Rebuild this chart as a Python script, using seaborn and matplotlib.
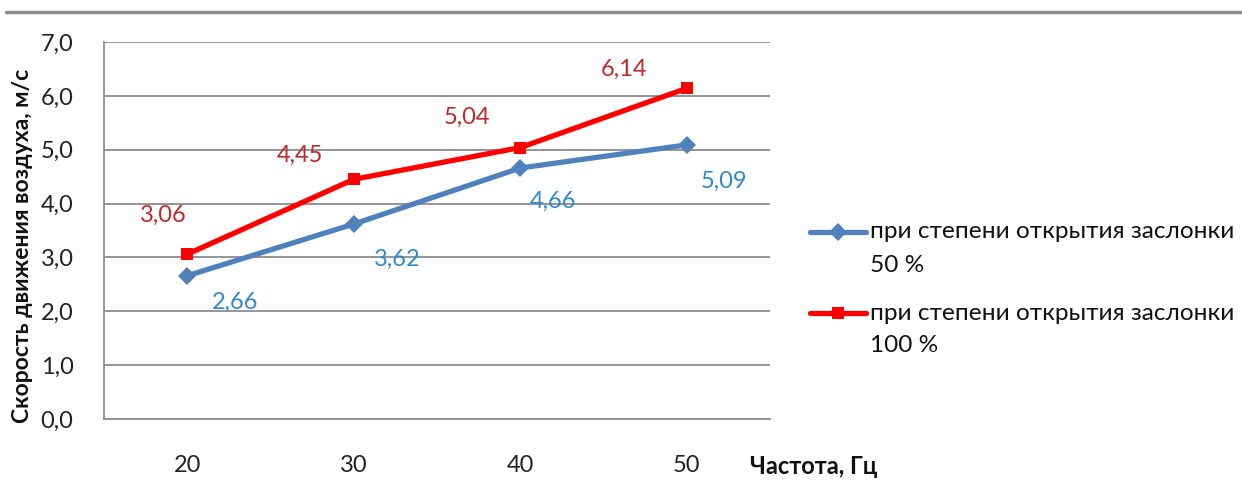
import matplotlib
matplotlib.use("Agg")
import matplotlib.pyplot as plt
from matplotlib.lines import Line2D
from matplotlib.ticker import FuncFormatter
import seaborn as sns
import pandas as pd

freq = ["20", "30", "40", "50"]
speed_50 = [2.66, 3.62, 4.66, 5.09]
speed_100 = [3.06, 4.45, 5.04, 6.14]
series_names = ["при степени открытия заслонки\n50 %",
                "при степени открытия заслонки\n100 %"]

# label offsets in pixels (dx, dy) relative to each point
offsets_50 = [(48, -27), (43, -35), (33, -33), (37, -36)]
offsets_100 = [(-24, 39), (-54, 24), (-53, 30), (-63, 19)]

df = pd.DataFrame({
    "freq": freq * 2,
    "speed": speed_50 + speed_100,
    "series": [series_names[0]] * 4 + [series_names[1]] * 4,
})

sns.set_style("white")
plt.rcParams['font.family'] = ['Lato', 'DejaVu Sans']

line_colors = ["#4F81BD", "#FF0000"]
label_colors = ["#2F8ACB", "#C0282D"]
W, H = 1242, 503

fig = plt.figure(figsize=(W / 100, H / 100), dpi=100)
ax = fig.add_axes([104 / W, 1 - 419 / H, 666 / W, 377 / H])

sns.lineplot(data=df, x="freq", y="speed", hue="series", style="series",
             palette=line_colors, markers=["D", "s"], dashes=False,
             linewidth=3.8, markersize=9, markeredgewidth=0, ax=ax, legend=False,
             sort=False)

ax.set_xlim(-0.5, 3.5)
ax.set_ylim(0, 7)
ax.set_yticks([i for i in range(8)])
ax.yaxis.set_major_formatter(FuncFormatter(lambda v, p: f"{v:.1f}".replace(".", ",")))
ax.grid(axis="y", color="#8C8C8C", linewidth=1.3)
ax.set_axisbelow(True)
for s in ["top", "right"]:
    ax.spines[s].set_visible(False)
for s in ["left", "bottom"]:
    ax.spines[s].set_color("#8C8C8C")
    ax.spines[s].set_linewidth(1.3)
ax.tick_params(axis="both", length=0, labelsize=17, colors="#222222")
ax.tick_params(axis="x", pad=26)
ax.tick_params(axis="y", pad=22)
ax.set_xlabel("")
ax.set_ylabel("Скорость движения воздуха, м/с", fontsize=16.5, fontweight="bold",
              color="#111111")
ax.yaxis.set_label_coords(-0.106, 0.46)

# data labels
for i, v in enumerate(speed_50):
    ax.annotate(f"{v:.2f}".replace(".", ","), (i, v), xytext=offsets_50[i],
                textcoords="offset pixels", ha="center", va="center",
                fontsize=17, color=label_colors[0])
for i, v in enumerate(speed_100):
    ax.annotate(f"{v:.2f}".replace(".", ","), (i, v), xytext=offsets_100[i],
                textcoords="offset pixels", ha="center", va="center",
                fontsize=17, color=label_colors[1])

fig.text(750 / W, 1 - 467 / H, "Частота, Гц", fontsize=17, fontweight="bold",
         color="#111111", ha="left", va="center")

# top rule
fig.add_artist(Line2D([6 / W, 1.0], [1 - 12 / H, 1 - 12 / H], color="#8C8C8C", linewidth=2.5))

# legend
markers = ["D", "s"]
for k, name in enumerate(series_names):
    y1 = 232 + k * 81
    fig.add_artist(Line2D([810 / W, 866 / W], [1 - y1 / H, 1 - y1 / H],
                          color=line_colors[k], linewidth=3.8))
    fig.add_artist(Line2D([838 / W], [1 - y1 / H], color=line_colors[k],
                          marker=markers[k], markersize=9, markeredgewidth=0,
                          linestyle="none"))
    first, second = name.split("\n")
    fig.text(870 / W, 1 - y1 / H, first, fontsize=17.6, color="#111111",
             ha="left", va="center")
    fig.text(870 / W, 1 - (y1 + 33) / H, second, fontsize=17.6, color="#111111",
             ha="left", va="center")

fig.savefig("out.png", dpi=100)
